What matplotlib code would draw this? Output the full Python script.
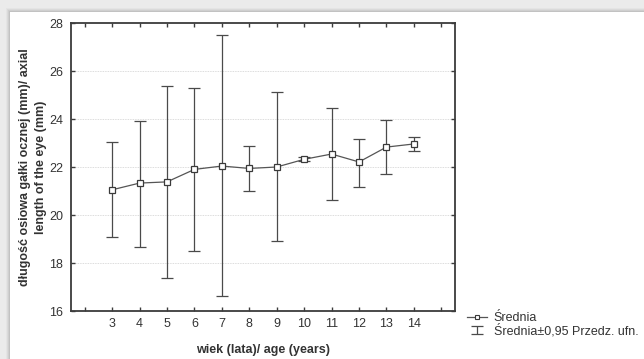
import numpy as np
import matplotlib.pyplot as plt
from matplotlib.patches import Rectangle
from matplotlib.lines import Line2D
from matplotlib.container import ErrorbarContainer
from matplotlib.legend_handler import HandlerErrorbar

plt.rcParams['font.family'] = ['Liberation Sans', 'DejaVu Sans']

ages = [3, 4, 5, 6, 7, 8, 9, 10, 11, 12, 13, 14]
means = [21.05, 21.33, 21.38, 21.90, 22.04, 21.94, 22.00, 22.32, 22.54, 22.21, 22.83, 22.96]
upper = [23.03, 23.93, 25.38, 25.28, 27.50, 22.88, 25.14, 22.40, 24.44, 23.18, 23.96, 23.24]
lower = [19.07, 18.68, 17.38, 18.50, 16.63, 20.99, 18.90, 22.25, 20.63, 21.18, 21.71, 22.65]
yticks = [16, 18, 20, 22, 24, 26, 28]

W, H = 644, 359
fig = plt.figure(figsize=(W / 100, H / 100), dpi=100)
fig.patch.set_facecolor('#ebebeb')

# shadow-ish frame: gray at top and left, white panel
for i, c in enumerate(['#e4e4e4', '#dadada', '#cfcfcf', '#c2c2c2']):
    fig.patches.append(Rectangle(((10 - 4 + i) / W, 0), 1, (H - 12 + 4 - i) / H,
                                 transform=fig.transFigure, facecolor=c,
                                 edgecolor='none', zorder=-10))
fig.patches.append(Rectangle((10 / W, 0), 1, (H - 12) / H, transform=fig.transFigure,
                             facecolor='white', edgecolor='none', zorder=-9))

ax = fig.add_axes([71 / W, 1 - 311 / H, (455 - 71) / W, (311 - 23) / H])
ax.set_zorder(1)

means = np.array(means)
yerr = [means - np.array(lower), np.array(upper) - means]

dark = '#3c3c3c'
fs = 9
ax.plot(ages, means, '-', color='#555555', lw=0.9, zorder=2)
eb = ax.errorbar(ages, means, yerr=yerr, fmt='none', ecolor='#4a4a4a',
                 elinewidth=0.9, capsize=4.5, capthick=0.9, zorder=3)
ax.plot(ages, means, 's', ms=4.4, mfc='white', mec='#3a3a3a', mew=0.9, zorder=4)

ax.set_xlim(1.5, 15.5)
ax.set_ylim(16, 28)
ax.set_xticks(range(2, 16))
ax.set_xticklabels(['' if a < 3 or a > 14 else str(a) for a in range(2, 16)])
ax.set_yticks(yticks)
ax.set_yticklabels([str(v) for v in yticks])
ax.tick_params(direction='in', length=3, width=1, color=dark, labelsize=fs,
               labelcolor='#333333', top=True, right=True)
ax.tick_params(axis='x', pad=5)
ax.tick_params(axis='y', pad=5.5)
for s in ax.spines.values():
    s.set_color(dark)
    s.set_linewidth(1.3)

for v in yticks[1:-1]:
    ax.axhline(v, color='#d0d0d0', lw=0.6, ls=(0, (1, 1)), zorder=0)

ax.set_xlabel('wiek (lata)/ age (years)', fontsize=fs, fontweight='bold',
              color='#333333', labelpad=10)
ax.set_ylabel('długość osiowa gałki ocznej (mm)/ axial\nlength of the eye (mm)',
              fontsize=fs, fontweight='bold', color='#333333', labelpad=2,
              linespacing=1.45)

h1 = Line2D([], [], color='#555555', lw=0.9, marker='s', ms=3.5, mfc='white',
            mec='#3a3a3a', mew=0.8)
leg = fig.legend([h1, eb], ['Średnia', 'Średnia±0,95 Przedz. ufn.'],
                 loc='upper left', bbox_to_anchor=(461 / W, 1 - 306 / H),
                 frameon=False, fontsize=fs, handlelength=1.6, handletextpad=0.5,
                 labelspacing=-0.02, borderpad=0,
                 handler_map={ErrorbarContainer: HandlerErrorbar(yerr_size=0.3)})
for t in leg.get_texts():
    t.set_color('#333333')

fig.savefig('out.png', dpi=100, facecolor=fig.get_facecolor())
